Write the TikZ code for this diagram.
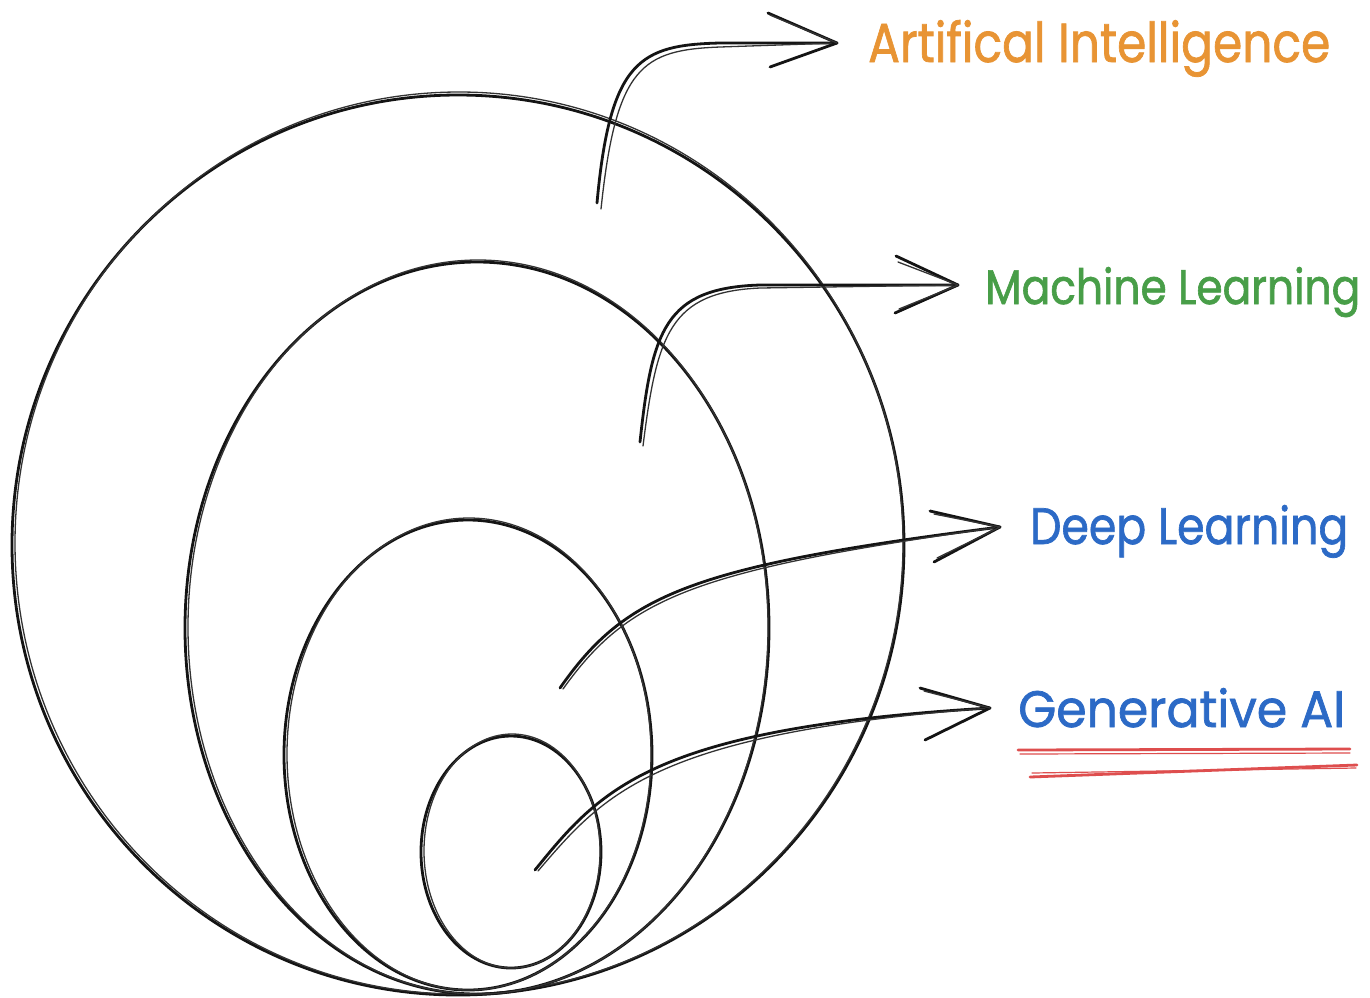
\documentclass[tikz,border=0pt]{standalone}
\usepackage{fontspec}
\usepackage{graphicx}
\setmainfont{Poppins}
\newfontfamily\labelfont{Poppins}[FakeBold=1.4]
\definecolor{aiorange}{RGB}{232,148,52}
\definecolor{mlgreen}{RGB}{72,158,72}
\definecolor{dlblue}{RGB}{44,106,198}
\definecolor{ulred}{RGB}{222,78,78}
\newcommand{\sketchlabel}[3]{\resizebox{#1}{#2}{\labelfont #3}}
\tikzset{
  ink/.style={draw=black!92, line width=2.8pt, line cap=round, line join=round},
  inkthin/.style={draw=black!80, line width=1.3pt, line cap=round, line join=round},
  lbl/.style={inner sep=0pt, anchor=base west},
  uline/.style={draw=ulred, line width=2.8pt, line cap=round},
}
\begin{document}
\begin{tikzpicture}[x=1pt,y=-1pt]
\path[use as bounding box, fill=white] (0,0) rectangle (1370,997);

% ---- circles (sketchy, double stroked) ----
\draw[ink] (458,545) ellipse [x radius=446pt, y radius=450pt];
\draw[inkthin] (459,543) ellipse [x radius=444pt, y radius=451pt];
\draw[ink] (477,628) ellipse [x radius=292pt, y radius=366pt];
\draw[inkthin] (478,627) ellipse [x radius=290pt, y radius=367pt];
\draw[ink] (468,755) ellipse [x radius=184pt, y radius=235pt];
\draw[inkthin] (469,754) ellipse [x radius=182pt, y radius=236pt];
\draw[ink] (511,852) ellipse [x radius=90pt, y radius=116pt];
\draw[inkthin] (512,851) ellipse [x radius=88pt, y radius=117pt];

% ---- labels ----
\node[lbl] (lai) at (868,62) {\color{aiorange}\sketchlabel{462pt}{42pt}{Artifical Intelligence}};
\node[lbl] (lml) at (985,304) {\color{mlgreen}\sketchlabel{375pt}{37pt}{Machine Learning}};
\node[lbl] (ldl) at (1030,544) {\color{dlblue}\sketchlabel{318pt}{39pt}{Deep Learning}};
\node[lbl] (lga) at (1018,727) {\color{dlblue}\sketchlabel{327pt}{39pt}{Generative AI}};

% ---- arrow end points ----
\coordinate (sai) at (597,203);
\coordinate (tai) at (837,43);
\coordinate (sml) at (640,442);
\coordinate (tml) at (958,285);
\coordinate (sdl) at (560,688);
\coordinate (tdl) at (1000,527);
\coordinate (sga) at (535,870);
\coordinate (tga) at (990,708);

% ---- arrows ----
% AI
\draw[ink] (sai) .. controls (610,60) and (640,45) .. (720,43) -- (tai);
\draw[inkthin] ([xshift=4pt,yshift=-6pt]sai) .. controls (616,66) and (642,50) .. (720,47) -- (tai);
\draw[ink] (768,13) -- (tai) -- (770,67);
\draw[inkthin] (770,15) -- (tai);
% ML
\draw[ink] (sml) .. controls (652,330) and (665,288) .. (760,285) -- (tml);
\draw[inkthin] ([xshift=3pt,yshift=-4pt]sml) .. controls (657,334) and (670,292) .. (760,288) -- (tml);
\draw[ink] (896,256) -- (tml) -- (895,313);
\draw[inkthin] (898,262) -- (tml) -- (899,309);
% DL
\draw[ink] (sdl) .. controls (625,595) and (690,566) .. (tdl);
\draw[inkthin] ([xshift=3pt,yshift=-1pt]sdl) .. controls (628,598) and (692,570) .. (tdl);
\draw[ink] (930,511) -- (tdl) -- (934,562);
\draw[inkthin] (934,514) -- (tdl) -- (937,558);
% GenAI
\draw[ink] (sga) .. controls (600,790) and (650,728) .. (tga);
\draw[inkthin] ([xshift=3pt,yshift=-1pt]sga) .. controls (604,794) and (654,733) .. (tga);
\draw[ink] (920,688) -- (tga) -- (925,740);
\draw[inkthin] (924,691) -- (tga);

% ---- red double underline ----
\draw[uline] (1018,750) -- (1350,749);
\draw[uline, line width=1.2pt] (1020,754) -- (1350,753);
\draw[uline] (1030,777) -- (1357,765);
\draw[uline, line width=1.2pt] (1032,773) -- (1356,768);
\end{tikzpicture}
\end{document}
